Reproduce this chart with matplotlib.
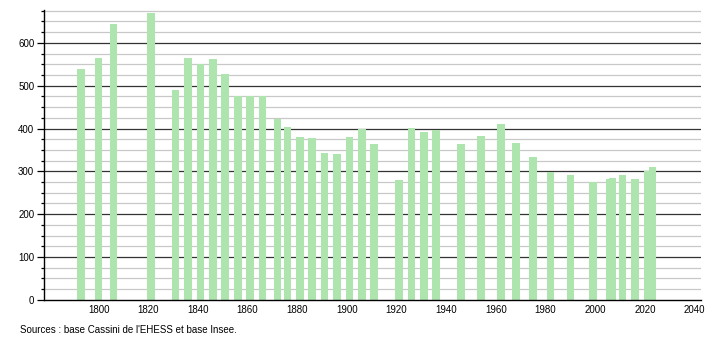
import matplotlib.pyplot as plt
import numpy as np

years = [1793, 1800, 1806, 1821, 1831, 1836, 1841, 1846, 1851, 1856,
         1861, 1866, 1872, 1876, 1881, 1886, 1891, 1896, 1901, 1906,
         1911, 1921, 1926, 1931, 1936, 1946, 1954, 1962, 1968, 1975,
         1982, 1990, 1999, 2006, 2007, 2011, 2016, 2021, 2023]
population = [539, 564, 644, 669, 490, 564, 551, 562, 528, 476,
              475, 475, 423, 404, 381, 378, 343, 341, 381, 399,
              364, 280, 402, 392, 397, 364, 383, 411, 367, 334,
              299, 292, 275, 283, 285, 292, 283, 300, 311]
x_ticks = list(range(1800, 2041, 20))

plt.rcParams['font.family'] = ['Liberation Sans', 'DejaVu Sans']

fig = plt.figure(figsize=(7.1, 3.4), dpi=100)
ax = fig.add_axes([0.062, 0.118, 0.925, 0.853])

ax.set_xlim(1778, 2042.5)
ax.set_ylim(0, 677)

# grille : traits fins tous les 25, traits foncés tous les 100
for v in range(25, 677, 25):
    if v % 100 == 0:
        ax.axhline(v, color='#333333', lw=0.9, zorder=1)
    else:
        ax.axhline(v, color='#c8c8c8', lw=0.9, zorder=1)

ax.bar(years, population, width=3.1, color='#aee4ae', zorder=2)

ax.set_xticks(x_ticks)
ax.set_yticks(range(0, 601, 100))
ax.set_yticks(range(0, 677, 25), minor=True)
ax.tick_params(axis='x', length=0, labelsize=7, pad=4)
ax.tick_params(axis='y', which='major', length=5, width=0.9, labelsize=7, pad=2)
ax.tick_params(axis='y', which='minor', length=2.5, width=0.9)

for s in ['top', 'right']:
    ax.spines[s].set_visible(False)
ax.spines['left'].set_linewidth(1)
ax.spines['bottom'].set_linewidth(1)

fig.text(0.028, 0.022, "Sources : base Cassini de l'EHESS et base Insee.", fontsize=7)

fig.savefig('out.png', dpi=100)
